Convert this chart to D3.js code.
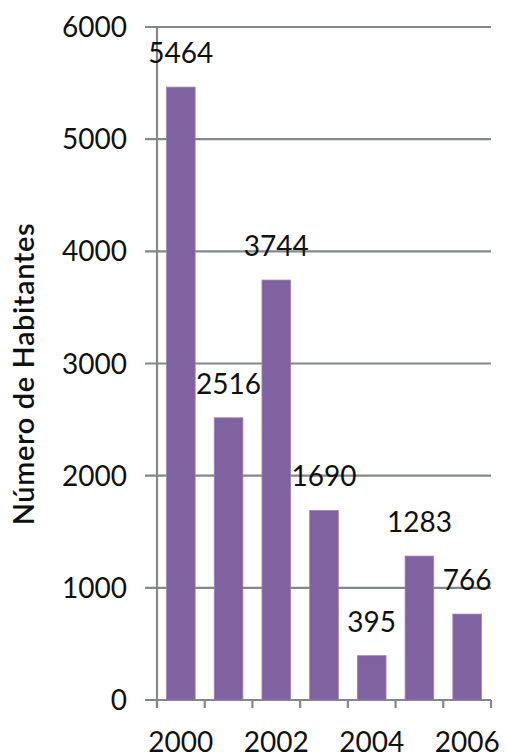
<!DOCTYPE html>
<html>
<head>
<meta charset="utf-8">
<script src="https://cdn.jsdelivr.net/npm/d3@7"></script>
<style>
  body { margin: 0; background: #fff; }
  text { font-family: Lato, "Open Sans", sans-serif; fill: #111; }
</style>
</head>
<body>
<svg id="chart"></svg>
<script>
// values
var years = ["2000", "2001", "2002", "2003", "2004", "2005", "2006"];
var habitantes = [5464, 2516, 3744, 1690, 395, 1283, 766];
var yTicks = [0, 1000, 2000, 3000, 4000, 5000, 6000];
var xLabels = ["2000", "2002", "2004", "2006"];

var W = 506, H = 752;
var plot = { left: 157, right: 491, top: 27, bottom: 700 };

var svg = d3.select("#chart").attr("width", W).attr("height", H);

var x = d3.scaleBand().domain(years).range([plot.left, plot.right])
  .paddingInner(0.4).paddingOuter(0.2);
var y = d3.scaleLinear().domain([0, 6000]).range([plot.bottom, plot.top]);

var grey = "#848888";

// gridlines (they also make the left ticks)
svg.selectAll("line.grid")
  .data(yTicks)
  .join("line")
  .attr("class", "grid")
  .attr("x1", plot.left - 12).attr("x2", plot.right)
  .attr("y1", d => y(d)).attr("y2", d => y(d))
  .attr("stroke", grey).attr("stroke-width", 2.2);

// left axis line
svg.append("line")
  .attr("x1", plot.left).attr("x2", plot.left)
  .attr("y1", y(6000)).attr("y2", plot.bottom + 8)
  .attr("stroke", grey).attr("stroke-width", 2.2);

// bottom ticks at category boundaries
var step = (plot.right - plot.left) / years.length;
svg.selectAll("line.xt")
  .data(d3.range(years.length + 1))
  .join("line")
  .attr("class", "xt")
  .attr("x1", i => plot.left + i * step).attr("x2", i => plot.left + i * step)
  .attr("y1", plot.bottom).attr("y2", plot.bottom + 8)
  .attr("stroke", grey).attr("stroke-width", 2.2);

// bars
svg.selectAll("rect.bar")
  .data(habitantes)
  .join("rect")
  .attr("class", "bar")
  .attr("x", (d, i) => x(years[i]))
  .attr("width", x.bandwidth())
  .attr("y", d => y(d))
  .attr("height", d => plot.bottom - y(d))
  .attr("fill", "#8062a0")
  .attr("stroke", "#9a83b6").attr("stroke-width", 0.8);

// value labels
svg.selectAll("text.val")
  .data(habitantes)
  .join("text")
  .attr("class", "val")
  .attr("x", (d, i) => x(years[i]) + x.bandwidth() / 2)
  .attr("y", d => y(d) - 24)
  .attr("text-anchor", "middle")
  .style("font-size", "28px")
  .text(d => d);

// y tick labels
svg.selectAll("text.yt")
  .data(yTicks)
  .join("text")
  .attr("class", "yt")
  .attr("x", plot.left - 30)
  .attr("y", d => y(d))
  .attr("dy", "0.36em")
  .attr("text-anchor", "end")
  .style("font-size", "28px")
  .text(d => d);

// x labels
svg.selectAll("text.xl")
  .data(xLabels)
  .join("text")
  .attr("class", "xl")
  .attr("x", d => x(d) + x.bandwidth() / 2)
  .attr("y", 752)
  .attr("text-anchor", "middle")
  .style("font-size", "28px")
  .text(d => d);

// y title
svg.append("text")
  .attr("transform", "translate(34, 374) rotate(-90)")
  .attr("text-anchor", "middle")
  .style("font-size", "29px")
  .style("letter-spacing", "0.6px")
  .style("font-weight", 600)
  .text("Número de Habitantes");
</script>
</body>
</html>
